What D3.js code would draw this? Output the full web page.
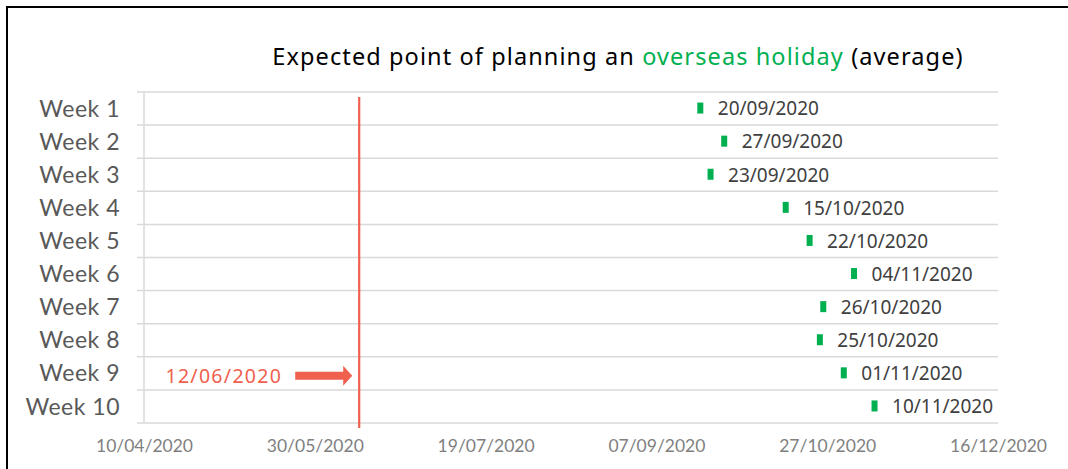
<!DOCTYPE html>
<html><head><meta charset="utf-8">
<script src="https://cdn.jsdelivr.net/npm/d3@7"></script>
<style>
html,body{margin:0;padding:0;background:#fff;}
svg{display:block;}
</style></head>
<body>
<script>
const weeks = ["Week 1","Week 2","Week 3","Week 4","Week 5","Week 6","Week 7","Week 8","Week 9","Week 10"];
const expectedDates = ["20/09/2020","27/09/2020","23/09/2020","15/10/2020","22/10/2020","04/11/2020","26/10/2020","25/10/2020","01/11/2020","10/11/2020"];
const tickLabels = ["10/04/2020","30/05/2020","19/07/2020","07/09/2020","27/10/2020","16/12/2020"];
const markerDate = "12/06/2020";
const titleParts = [["Expected point of planning an ","#000"],["overseas holiday","#00B050"],[" (average)","#000"]];

const parse = d3.timeParse("%d/%m/%Y");
const fmt = d3.timeFormat("%d/%m/%Y");
const W = 1068, H = 469;
const svg = d3.select("body").append("svg").attr("width", W).attr("height", H);

// frame
svg.append("path").attr("d", `M7,${H+5} V7 H${W+5}`).attr("fill","none").attr("stroke","#000").attr("stroke-width",2);

const ticks = tickLabels.map(parse);
const x = d3.scaleTime().domain([ticks[0], ticks[ticks.length-1]]).range([144, 998]);
const y = d3.scaleBand().domain(weeks).range([92, 423]).padding(0);

// title
const t = svg.append("text").attr("x", 618).attr("y", 65).attr("text-anchor","middle")
  .style("font-family","'Noto Sans', sans-serif").style("font-size","23.5px").style("letter-spacing","1.1px");
t.selectAll("tspan").data(titleParts).join("tspan").attr("fill", d=>d[1]).text(d=>d[0]);

// gridlines
const bounds = weeks.map(w => y(w)).concat([y.range()[1]]);
svg.append("g").selectAll("line").data(bounds).join("line")
  .attr("x1",137).attr("x2",998).attr("y1",d=>d).attr("y2",d=>d)
  .attr("stroke","#d9d9d9").attr("stroke-width",1.5);
svg.append("line").attr("x1",144).attr("x2",144).attr("y1",92).attr("y2",423)
  .attr("stroke","#d9d9d9").attr("stroke-width",1.5);

// y labels
svg.append("g").selectAll("text").data(weeks).join("text")
  .attr("x",120).attr("y",d=>y(d)+y.bandwidth()/2).attr("dy","0.35em").attr("text-anchor","end")
  .attr("fill","#595959").style("font-family","Lato, sans-serif").style("font-size","23px").style("letter-spacing","0.5px").text(d=>d);

// x axis
const xAxis = d3.axisBottom(x).tickValues(ticks).tickFormat(fmt).tickSize(0).tickPadding(0);
const gx = svg.append("g").attr("transform","translate(0,446)").call(xAxis);
gx.select(".domain").remove();
gx.selectAll("text").attr("fill","#7f7f7f").style("font-family","Lato, sans-serif").style("font-size","17.5px").attr("dy","0.35em");

// red line
const rx = x(parse(markerDate));
svg.append("line").attr("x1",rx).attr("x2",rx).attr("y1",97).attr("y2",428)
  .attr("stroke","#F0604E").attr("stroke-width",2.2);

// annotation
const annRow = y("Week 9") + y.bandwidth()/2 + 2.5;
svg.append("text").attr("x",rx-77).attr("y",annRow).attr("dy","0.35em").attr("text-anchor","end")
  .attr("fill","#F0604E").style("font-family","'Noto Sans', sans-serif").style("font-size","19.5px").style("letter-spacing","1.3px").text(markerDate);
svg.append("path")
  .attr("d",`M${rx-64},${annRow-4} H${rx-16} V${annRow-10} L${rx-7},${annRow} L${rx-16},${annRow+10} V${annRow+4} H${rx-64} Z`)
  .attr("fill","#F0604E");

// markers
const data = weeks.map((w,i)=>({week:w, label:expectedDates[i], date:parse(expectedDates[i])}));
svg.append("g").selectAll("rect").data(data).join("rect")
  .attr("x",d=>x(d.date)-3.5).attr("y",d=>y(d.week)+y.bandwidth()/2-6)
  .attr("width",6).attr("height",11).attr("fill","#00B050");
svg.append("g").selectAll("text").data(data).join("text")
  .attr("x",d=>x(d.date)+17).attr("y",d=>y(d.week)+y.bandwidth()/2).attr("dy","0.36em")
  .attr("fill","#404040").style("font-family","'Noto Sans', sans-serif").style("font-size","19px").text(d=>d.label);
</script>
</body></html>
